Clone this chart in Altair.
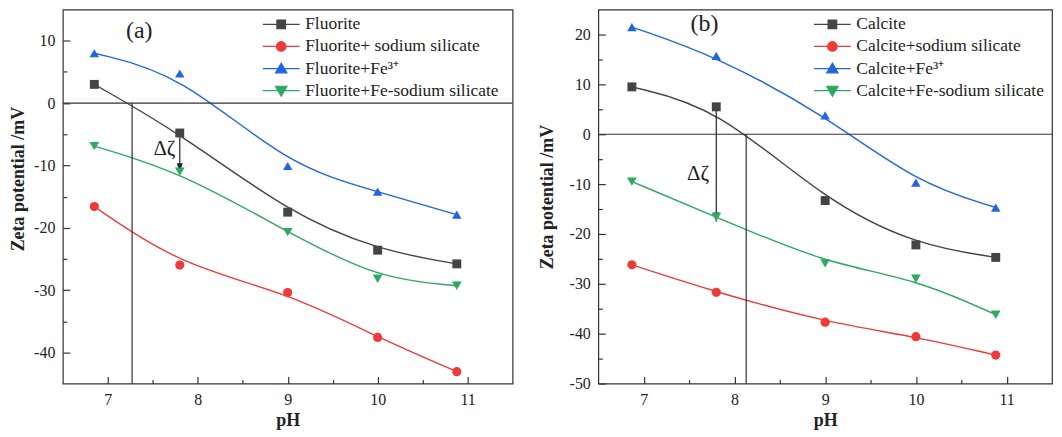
import altair as alt
import pandas as pd

FONT = "Liberation Serif"

# ---------------- data: panel (a) ----------------
ph_a = [6.85, 7.8, 9.0, 10.0, 10.88]
names_a = ["Fluorite", "Fluorite+ sodium silicate", "Fluorite+Fe³⁺", "Fluorite+Fe-sodium silicate"]
fluorite = [3.0, -4.8, -17.5, -23.6, -25.8]
fluorite_ss = [-16.6, -26.0, -30.4, -37.6, -43.1]
fluorite_fe = [8.0, 4.75, -10.1, -14.2, -17.9]
fluorite_fess = [-6.9, -11.0, -20.7, -28.2, -29.3]

# ---------------- data: panel (b) ----------------
ph_b = [6.87, 7.8, 9.0, 10.0, 10.88]
names_b = ["Calcite", "Calcite+sodium silicate", "Calcite+Fe³⁺", "Calcite+Fe-sodium silicate"]
calcite = [9.5, 5.5, -13.3, -22.2, -24.7]
calcite_ss = [-26.2, -31.7, -37.7, -40.6, -44.3]
calcite_fe = [21.5, 15.7, 3.8, -9.7, -14.7]
calcite_fess = [-9.5, -16.6, -25.9, -29.0, -36.2]

# annotations (data coordinates)
iep_a, iep_b = 7.27, 8.13
arrow_a = [7.8, -4.8, -11.1]
arrow_b = [7.8, 5.5, -17.5]
dz_a = [7.63, -7.4]
dz_b = [7.60, -7.9]
tag_a = [7.35, 11.6]
tag_b = [7.67, 22.1]

x_domain = [6.5, 11.5]
x_major = [7, 8, 9, 10, 11]
x_minor = [7.5, 8.5, 9.5, 10.5]
y_domain_a = [-45, 15]
y_major_a = [-40, -30, -20, -10, 0, 10]
y_minor_a = [-35, -25, -15, -5, 5]
y_domain_b = [-50, 25]
y_major_b = [-50, -40, -30, -20, -10, 0, 10, 20]
y_minor_b = [-45, -35, -25, -15, -5, 5, 15]

colors = ["#444444", "#ef3a3a", "#2166e0", "#2fa862"]
shapes = ["square", "circle", "triangle-up", "triangle-down"]
marker_sizes = [80, 95, 140, 140]
leg_paths = [
    "M-4.1,0L4.1,0M-0.95,-0.95L0.95,-0.95L0.95,0.95L-0.95,0.95Z",
    "M-4.1,0L4.1,0M1.05,0A1.05,1.05,0,1,1,-1.05,0A1.05,1.05,0,1,1,1.05,0Z",
    "M-4.1,0L4.1,0M-1.25,0.95L1.25,0.95L0,-1.2Z",
    "M-4.1,0L4.1,0M-1.25,-0.95L1.25,-0.95L0,1.2Z",
]
arrow_head = "M-1,-3L1,-3L0,0Z"

LABEL_EXPR = "'' + datum.value"


def panel(ph, names, series, ydom, ymaj, ymin, iep, arrow, dz, tag, tagtxt,
          leg_x, title_pad, width, title_y=None):
    rows = []
    for name, vals in zip(names, series):
        for x, v in zip(ph, vals):
            rows.append({"pH": x, "zeta": v, "series": name})
    df = pd.DataFrame(rows)
    xs = alt.Scale(domain=x_domain, nice=False, zero=False)
    ys = alt.Scale(domain=ydom, nice=False, zero=False)
    cscale = alt.Scale(domain=names, range=colors)

    yaxis_kw = dict(orient="left", values=ymaj, labelExpr=LABEL_EXPR,
                    title="Zeta potential /mV", ticks=False, domain=False, grid=False,
                    labelPadding=8, titlePadding=title_pad, labelFont=FONT,
                    labelFontSize=16, titleFont=FONT, titleFontSize=18,
                    titleFontWeight="bold", labelColor="#222", titleColor="#222")
    if title_y is not None:
        yaxis_kw["titleY"] = title_y

    lines = alt.Chart(df).mark_line(interpolate="basis", strokeWidth=1.4).encode(
        x=alt.X("pH:Q", scale=xs, axis=alt.Axis(
            orient="bottom", values=x_major, labelExpr=LABEL_EXPR, title="pH", ticks=False,
            domain=False, grid=False, labelPadding=8, titlePadding=4,
            labelFont=FONT, labelFontSize=16, titleFont=FONT, titleFontSize=18,
            titleFontWeight="bold", labelColor="#222", titleColor="#222")),
        y=alt.Y("zeta:Q", scale=ys, axis=alt.Axis(**yaxis_kw)),
        color=alt.Color("series:N", scale=cscale, legend=None),
    )
    points = alt.Chart(df).mark_point(filled=True, opacity=1).encode(
        x=alt.X("pH:Q", scale=xs, axis=None),
        y=alt.Y("zeta:Q", scale=ys, axis=None),
        color=alt.Color("series:N", scale=cscale, legend=None),
        shape=alt.Shape("series:N", scale=alt.Scale(domain=names, range=shapes), legend=None),
        size=alt.Size("series:N", scale=alt.Scale(domain=names, range=marker_sizes), legend=None),
    )
    empty = alt.Chart(df).transform_filter("false")
    major = empty.mark_point().encode(
        x=alt.X("pH:Q", scale=xs, axis=alt.Axis(
            orient="bottom", values=x_major, labels=False, domain=False, grid=False,
            title=None, ticks=True, tickSize=7, offset=-7)),
        y=alt.Y("zeta:Q", scale=ys, axis=alt.Axis(
            orient="left", values=ymaj, labels=False, domain=False, grid=False,
            title=None, ticks=True, tickSize=7, offset=-7)),
    )
    minor = empty.mark_point().encode(
        x=alt.X("pH:Q", scale=xs, axis=alt.Axis(
            orient="bottom", values=x_minor, labels=False, domain=False, grid=False,
            title=None, ticks=True, tickSize=4, offset=-4)),
        y=alt.Y("zeta:Q", scale=ys, axis=alt.Axis(
            orient="left", values=ymin, labels=False, domain=False, grid=False,
            title=None, ticks=True, tickSize=4, offset=-4)),
    )
    zero = alt.Chart(pd.DataFrame({"y": [0]})).mark_rule(color="#333", strokeWidth=1.2).encode(
        y=alt.Y("y:Q", scale=ys, axis=None))
    iep_df = pd.DataFrame({"x": [iep], "y": [0], "y2": [ydom[0]]})
    iep_rule = alt.Chart(iep_df).mark_rule(color="#333", strokeWidth=1.2).encode(
        x=alt.X("x:Q", scale=xs, axis=None), y=alt.Y("y:Q", scale=ys, axis=None), y2="y2:Q")
    arr_df = pd.DataFrame({"x": [arrow[0]], "y": [arrow[1]], "y2": [arrow[2]]})
    arr_rule = alt.Chart(arr_df).mark_rule(color="#222", strokeWidth=1.2).encode(
        x=alt.X("x:Q", scale=xs, axis=None), y=alt.Y("y:Q", scale=ys, axis=None), y2="y2:Q")
    arr_head = alt.Chart(arr_df).mark_point(shape=arrow_head, filled=True, size=36,
                                            color="#222", opacity=1).encode(
        x=alt.X("x:Q", scale=xs, axis=None), y=alt.Y("y2:Q", scale=ys, axis=None))
    dz_text = alt.Chart(pd.DataFrame({"x": [dz[0]], "y": [dz[1]], "t": ["Δζ"]})).mark_text(
        font=FONT, fontSize=21, color="#222").encode(
        x=alt.X("x:Q", scale=xs, axis=None), y=alt.Y("y:Q", scale=ys, axis=None), text="t:N")
    tag_text = alt.Chart(pd.DataFrame({"x": [tag[0]], "y": [tag[1]], "t": [tagtxt]})).mark_text(
        font=FONT, fontSize=24, color="#222").encode(
        x=alt.X("x:Q", scale=xs, axis=None), y=alt.Y("y:Q", scale=ys, axis=None), text="t:N")

    legs = []
    for i, name in enumerate(names):
        spec = alt.Legend(values=[name], orient="none", legendX=leg_x, legendY=6 + 22.2 * i,
                          title=None, symbolSize=81, symbolStrokeWidth=1.3, labelFont=FONT,
                          labelFontSize=17.5, labelColor="#222", labelOffset=15.25,
                          symbolOffset=0, padding=0, labelLimit=400)
        legs.append(empty.mark_point(filled=True, shape=leg_paths[i], stroke=colors[i],
                                     strokeWidth=1.3, opacity=1).encode(
            color=alt.Color("series:N", scale=cscale, legend=spec)))

    return alt.layer(lines, zero, iep_rule, arr_rule, arr_head, points, major, minor,
                     dz_text, tag_text, *legs).resolve_legend(color="independent").resolve_axis(
        x="independent", y="independent").properties(width=width, height=375)


pa = panel(ph_a, names_a, [fluorite, fluorite_ss, fluorite_fe, fluorite_fess],
           y_domain_a, y_major_a, y_minor_a, iep_a, arrow_a, dz_a, tag_a, "(a)",
           210.25, 6.5, 451, title_y=169.5)
pb = panel(ph_b, names_b, [calcite, calcite_ss, calcite_fe, calcite_fess],
           y_domain_b, y_major_b, y_minor_b, iep_b, arrow_b, dz_b, tag_b, "(b)",
           226, 13, 455)

chart = alt.hconcat(pa, pb, spacing=23).resolve_scale(
    x="independent", y="independent", color="independent", shape="independent",
    size="independent").properties(
    padding={"left": 0, "top": 0, "right": 0, "bottom": 0}).configure(
    font=FONT).configure_view(stroke="#333", strokeWidth=1.2, fill="white").configure_axis(
    labelFont=FONT, labelFontSize=16, labelColor="#222", titleFont=FONT, titleFontSize=18,
    titleFontWeight="bold", titleColor="#222", tickColor="#333", tickWidth=1.2, grid=False)

chart.save("out.html", embed_options={"renderer": "svg", "actions": False})
